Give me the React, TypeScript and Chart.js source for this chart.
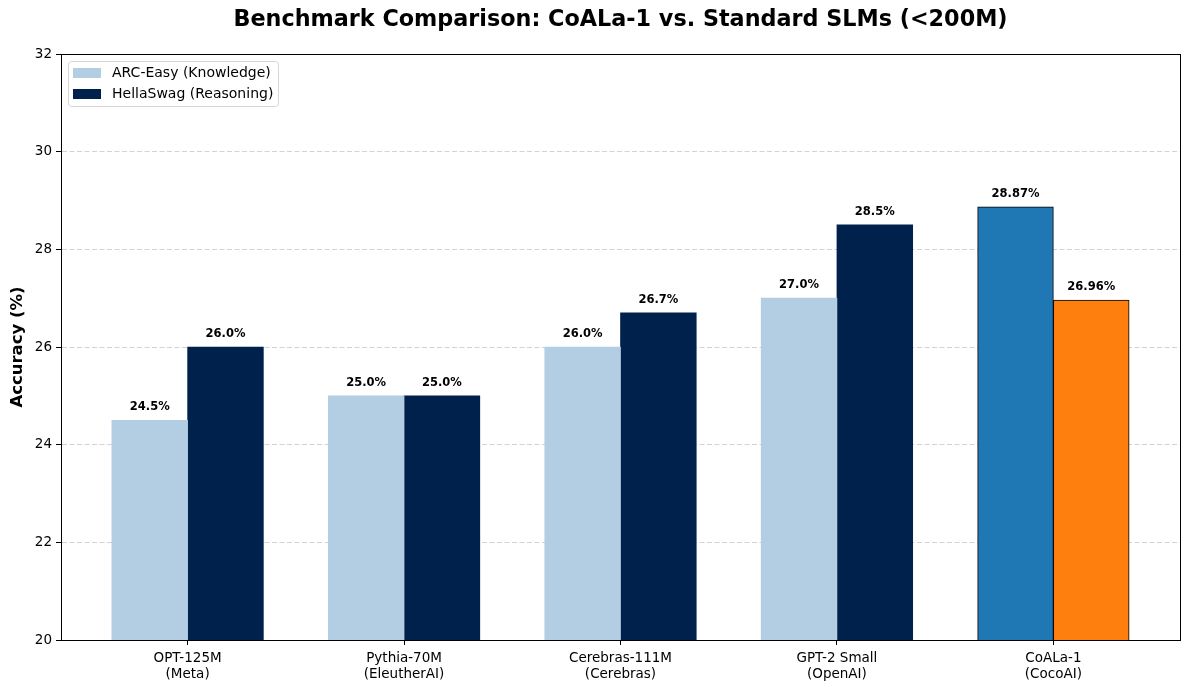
import React, { useEffect, useRef } from "react";
import { Chart, registerables } from "chart.js";

Chart.register(...registerables);

const categories: string[][] = [
  ["OPT-125M", "(Meta)"],
  ["Pythia-70M", "(EleutherAI)"],
  ["Cerebras-111M", "(Cerebras)"],
  ["GPT-2 Small", "(OpenAI)"],
  ["CoALa-1", "(CocoAI)"],
];
const arcEasy = [24.5, 25.0, 26.0, 27.0, 28.87];
const hellaSwag = [26.0, 25.0, 26.7, 28.5, 26.96];
const labelDecimals = [1, 1, 1, 1, 2];
const yTicks = [20, 22, 24, 26, 28, 30, 32];
const seriesNames = ["ARC-Easy (Knowledge)", "HellaSwag (Reasoning)"];
const title = "Benchmark Comparison: CoALa-1 vs. Standard SLMs (<200M)";

const ARC_COLOR = "#b3cde3";
const HELLA_COLOR = "#01214d";
const COALA_ARC = "#1f77b4";
const COALA_HELLA = "#ff7f0e";
const BAR_W = 0.35;
const FONT = "'DejaVu Sans', sans-serif";

export default function App() {
  const ref = useRef<HTMLCanvasElement | null>(null);

  useEffect(() => {
    document.body.style.margin = "0";
    const canvas = ref.current!;
    const n = categories.length;
    const lastIdx = n - 1;

    const overlay = {
      id: "overlay",
      afterDatasetsDraw(chart: any) {
        const ctx = chart.ctx;
        const area = chart.chartArea;
        const xs = chart.scales.x;
        const ys = chart.scales.y;
        ctx.save();
        // value labels
        ctx.font = `bold 11.5px ${FONT}`;
        ctx.fillStyle = "#000";
        ctx.textAlign = "center";
        ctx.textBaseline = "middle";
        const drawLabels = (vals: number[], off: number) => {
          vals.forEach((v, i) => {
            const x = xs.getPixelForValue(i + off);
            const y = ys.getPixelForValue(v);
            ctx.fillText(v.toFixed(labelDecimals[i]) + "%", x, y - 13);
          });
        };
        drawLabels(arcEasy, -BAR_W / 2);
        drawLabels(hellaSwag, BAR_W / 2);
        // frame
        ctx.strokeStyle = "#000";
        ctx.lineWidth = 1;
        ctx.strokeRect(
          Math.round(area.left) + 0.5,
          Math.round(area.top) + 0.5,
          Math.round(area.right - area.left),
          Math.round(area.bottom - area.top)
        );
        // title
        ctx.font = `bold 22.3px ${FONT}`;
        ctx.textBaseline = "middle";
        ctx.fillText(title, (area.left + area.right) / 2, 20);
        // legend
        const lx = area.left + 7;
        const ly = area.top + 7;
        const lw = 210;
        const lh = 45;
        ctx.fillStyle = "rgba(255,255,255,0.8)";
        ctx.strokeStyle = "#d6d6d6";
        ctx.beginPath();
        ctx.roundRect(lx + 0.5, ly + 0.5, lw, lh, 3);
        ctx.fill();
        ctx.stroke();
        const cols = [ARC_COLOR, HELLA_COLOR];
        ctx.font = `14px ${FONT}`;
        ctx.textAlign = "left";
        seriesNames.forEach((name, k) => {
          const cy = ly + 12 + k * 21;
          ctx.fillStyle = cols[k];
          ctx.fillRect(lx + 5, cy - 5, 28, 10);
          ctx.fillStyle = "#000";
          ctx.fillText(name, lx + 44, cy);
        });
        ctx.restore();
      },
    };

    const chart = new Chart(canvas, {
      type: "bar",
      data: {
        datasets: [
          {
            label: seriesNames[0],
            data: arcEasy.map((v, i) => ({ x: i - BAR_W / 2, y: v })),
            backgroundColor: arcEasy.map((_, i) => (i === lastIdx ? COALA_ARC : ARC_COLOR)),
            borderColor: arcEasy.map((_, i) => (i === lastIdx ? "#000" : "rgba(0,0,0,0)")),
            borderWidth: arcEasy.map((_, i) => (i === lastIdx ? 1 : 0)),
            barPercentage: 1,
            categoryPercentage: 1,
            grouped: false,
          } as any,
          {
            label: seriesNames[1],
            data: hellaSwag.map((v, i) => ({ x: i + BAR_W / 2, y: v })),
            backgroundColor: hellaSwag.map((_, i) => (i === lastIdx ? COALA_HELLA : HELLA_COLOR)),
            borderColor: hellaSwag.map((_, i) => (i === lastIdx ? "#000" : "rgba(0,0,0,0)")),
            borderWidth: hellaSwag.map((_, i) => (i === lastIdx ? 1 : 0)),
            barPercentage: 1,
            categoryPercentage: 1,
            grouped: false,
          } as any,
        ],
      },
      options: {
        animation: false,
        responsive: false,
        maintainAspectRatio: false,
        layout: { padding: { left: 0, top: 54, right: 9, bottom: 0 } },
        plugins: {
          legend: { display: false },
          title: { display: false },
          tooltip: { enabled: false },
        },
        scales: {
          x: {
            type: "linear",
            offset: false,
            min: -BAR_W - 0.05 * (n - 1 + 2 * BAR_W),
            max: n - 1 + BAR_W + 0.05 * (n - 1 + 2 * BAR_W),
            afterBuildTicks: (scale: any) => {
              scale.ticks = categories.map((_, i) => ({ value: i }));
            },
            afterFit: (scale: any) => {
              scale.height = 50;
            },
            ticks: {
              autoSkip: false,
              maxRotation: 0,
              padding: 5,
              color: "#000",
              font: { family: FONT, size: 13.5, lineHeight: 1.2 },
              callback: (v: any) => categories[Math.round(Number(v))] ?? "",
            },
            grid: {
              offset: false,
              drawOnChartArea: false,
              drawTicks: true,
              tickLength: 5,
              tickColor: "#000",
            },
            border: { display: true, color: "#000", width: 1 },
          } as any,
          y: {
            min: 20,
            max: 32,
            afterBuildTicks: (scale: any) => {
              scale.ticks = yTicks.map((v) => ({ value: v }));
            },
            afterFit: (scale: any) => {
              scale.width = 61;
            },
            ticks: {
              color: "#000",
              padding: 4,
              font: { family: FONT, size: 13.5 },
            },
            title: {
              display: true,
              text: "Accuracy (%)",
              color: "#000",
              font: { family: FONT, size: 16.5, weight: "bold" },
              padding: { top: 8, bottom: 4 },
            },
            grid: {
              color: "#d3d3d3",
              lineWidth: 1,
              drawTicks: true,
              tickLength: 5,
              tickColor: "#000",
            },
            border: { display: true, color: "#000", width: 1, dash: [5, 2.5] },
          } as any,
        },
      },
      plugins: [overlay],
    });
    return () => chart.destroy();
  }, []);

  return (
    <div style={{ position: "absolute", left: 0, top: 0, width: 1189, height: 690, background: "#fff" }}>
      <canvas ref={ref} width={1189} height={690} style={{ width: 1189, height: 690 }} />
    </div>
  );
}
